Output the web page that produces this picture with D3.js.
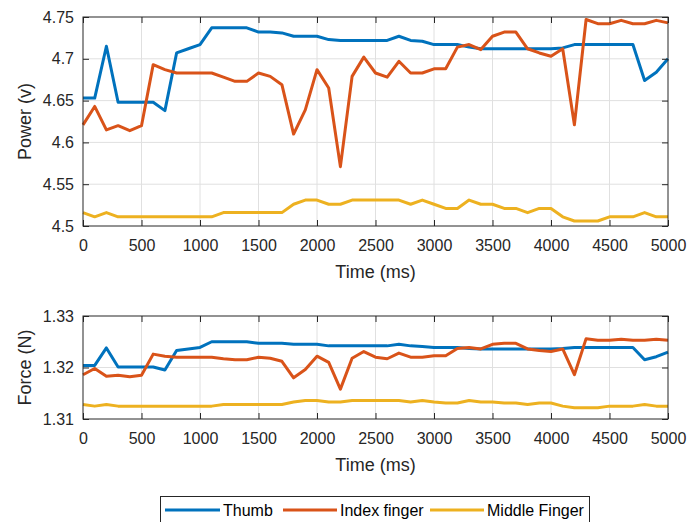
<!DOCTYPE html>
<html>
  <head>
    <meta charset="utf-8">
    <title>Power and force</title>
    <script src="https://d3js.org/d3.v7.min.js"></script>
    <style>
      body { margin: 0; background: #fff; }
      svg { display: block; font-family: "Liberation Sans", Arial, Helvetica, sans-serif; }
      .tick text { fill: #262626; font-size: 16px; }
      .tick line { stroke: #262626; }
      .grid line { stroke: #e0e0e0; stroke-width: 1; }
      .box { fill: none; stroke: #262626; stroke-width: 1; }
      .label { fill: #262626; font-size: 18px; text-anchor: middle; }
      .series { fill: none; stroke-width: 3; stroke-linejoin: round; }
      .legendText { fill: #000; font-size: 16px; }
    </style>
  </head>
  <body>
    <svg id="chart" width="689" height="522"></svg>
    <script>
      // data (one point every 100 ms)
      var time = [0, 100, 200, 300, 400, 500, 600, 700, 800, 900,
        1000, 1100, 1200, 1300, 1400, 1500, 1600, 1700, 1800, 1900,
        2000, 2100, 2200, 2300, 2400, 2500, 2600, 2700, 2800, 2900,
        3000, 3100, 3200, 3300, 3400, 3500, 3600, 3700, 3800, 3900,
        4000, 4100, 4200, 4300, 4400, 4500, 4600, 4700, 4800, 4900, 5000];
      var seriesNames = ["Thumb", "Index finger", "Middle Finger"];
      var seriesColours = ["#0072BD", "#D95319", "#EDB120"];

      var thumbPower = [4.653, 4.653, 4.715, 4.648, 4.648, 4.648, 4.648, 4.638, 4.707, 4.712,
        4.717, 4.737, 4.737, 4.737, 4.737, 4.732, 4.732, 4.731, 4.727, 4.727,
        4.727, 4.723, 4.722, 4.722, 4.722, 4.722, 4.722, 4.727, 4.722, 4.721,
        4.717, 4.717, 4.717, 4.714, 4.712, 4.712, 4.712, 4.712, 4.712, 4.712,
        4.712, 4.713, 4.717, 4.717, 4.717, 4.717, 4.717, 4.717, 4.674, 4.684, 4.700];
      var indexPower = [4.621, 4.643, 4.615, 4.620, 4.614, 4.620, 4.693, 4.687, 4.683, 4.683,
        4.683, 4.683, 4.678, 4.673, 4.673, 4.683, 4.679, 4.669, 4.610, 4.639,
        4.687, 4.665, 4.571, 4.679, 4.702, 4.683, 4.678, 4.697, 4.683, 4.683,
        4.688, 4.688, 4.714, 4.717, 4.711, 4.727, 4.732, 4.732, 4.712, 4.707,
        4.703, 4.712, 4.621, 4.747, 4.742, 4.742, 4.746, 4.742, 4.742, 4.746, 4.743];
      var middlePower = [4.516, 4.511, 4.516, 4.511, 4.511, 4.511, 4.511, 4.511, 4.511, 4.511,
        4.511, 4.511, 4.516, 4.516, 4.516, 4.516, 4.516, 4.516, 4.526, 4.531,
        4.531, 4.526, 4.526, 4.531, 4.531, 4.531, 4.531, 4.531, 4.526, 4.531,
        4.526, 4.521, 4.521, 4.531, 4.526, 4.526, 4.521, 4.521, 4.516, 4.521,
        4.521, 4.511, 4.506, 4.506, 4.506, 4.511, 4.511, 4.511, 4.516, 4.511, 4.511];

      var thumbForce = [1.3204, 1.3204, 1.3238, 1.3201, 1.3201, 1.3201, 1.3201, 1.3195, 1.3233, 1.3236,
        1.3239, 1.3250, 1.3250, 1.3250, 1.3250, 1.3247, 1.3247, 1.3247, 1.3245, 1.3245,
        1.3245, 1.3242, 1.3242, 1.3242, 1.3242, 1.3242, 1.3242, 1.3245, 1.3242, 1.3241,
        1.3239, 1.3239, 1.3239, 1.3237, 1.3236, 1.3236, 1.3236, 1.3236, 1.3236, 1.3236,
        1.3236, 1.3237, 1.3239, 1.3239, 1.3239, 1.3239, 1.3239, 1.3239, 1.3215, 1.3221, 1.3230];
      var indexForce = [1.3186, 1.3198, 1.3183, 1.3185, 1.3182, 1.3185, 1.3226, 1.3222, 1.3220, 1.3220,
        1.3220, 1.3220, 1.3217, 1.3215, 1.3215, 1.3220, 1.3218, 1.3212, 1.3180, 1.3196,
        1.3222, 1.3210, 1.3158, 1.3218, 1.3231, 1.3220, 1.3217, 1.3228, 1.3220, 1.3220,
        1.3223, 1.3223, 1.3237, 1.3239, 1.3236, 1.3245, 1.3247, 1.3247, 1.3236, 1.3233,
        1.3231, 1.3236, 1.3186, 1.3256, 1.3253, 1.3253, 1.3255, 1.3253, 1.3253, 1.3255, 1.3253];
      var middleForce = [1.3128, 1.3125, 1.3128, 1.3125, 1.3125, 1.3125, 1.3125, 1.3125, 1.3125, 1.3125,
        1.3125, 1.3125, 1.3128, 1.3128, 1.3128, 1.3128, 1.3128, 1.3128, 1.3133, 1.3136,
        1.3136, 1.3133, 1.3133, 1.3136, 1.3136, 1.3136, 1.3136, 1.3136, 1.3133, 1.3136,
        1.3133, 1.3131, 1.3131, 1.3136, 1.3133, 1.3133, 1.3131, 1.3131, 1.3128, 1.3131,
        1.3131, 1.3125, 1.3122, 1.3122, 1.3122, 1.3125, 1.3125, 1.3125, 1.3128, 1.3125, 1.3125];

      var timeTicks = [0, 500, 1000, 1500, 2000, 2500, 3000, 3500, 4000, 4500, 5000];
      var powerTicks = [4.5, 4.55, 4.6, 4.65, 4.7, 4.75];
      var forceTicks = [1.31, 1.32, 1.33];

      var svg = d3.select("#chart");
      var left = 83, right = 668;

      function drawPanel(top, bottom, yDomain, yTicks, yLabel, values) {
        var x = d3.scaleLinear().domain([0, 5000]).range([left, right]);
        var y = d3.scaleLinear().domain(yDomain).range([bottom, top]);
        var g = svg.append("g");
        // grid
        var grid = g.append("g").classed("grid", true);
        grid.selectAll(".gx")
            .data(timeTicks.slice(1, -1))
          .enter().append("line")
            .attr("x1", function(d) { return x(d); })
            .attr("x2", function(d) { return x(d); })
            .attr("y1", top)
            .attr("y2", bottom);
        grid.selectAll(".gy")
            .data(yTicks.slice(1, -1))
          .enter().append("line")
            .attr("y1", function(d) { return y(d); })
            .attr("y2", function(d) { return y(d); })
            .attr("x1", left)
            .attr("x2", right);
        // lines
        var line = d3.line()
          .x(function(d, i) { return x(time[i]); })
          .y(function(d) { return y(d); });
        g.selectAll(".series")
            .data(values)
          .enter().append("path")
            .classed("series", true)
            .attr("stroke", function(d, i) { return seriesColours[i]; })
            .attr("d", line);
        // axes, ticks pointing inwards
        g.append("g")
          .attr("transform", "translate(0," + bottom + ")")
          .call(d3.axisBottom(x).tickValues(timeTicks).tickSizeInner(-6).tickSizeOuter(0).tickPadding(14).tickFormat(d3.format("d")));
        g.append("g")
          .attr("transform", "translate(0," + top + ")")
          .call(d3.axisTop(x).tickValues(timeTicks).tickSizeInner(-6).tickSizeOuter(0).tickFormat(""));
        g.append("g")
          .attr("transform", "translate(" + left + ",0)")
          .call(d3.axisLeft(y).tickValues(yTicks).tickSizeInner(-6).tickSizeOuter(0).tickPadding(9).tickFormat(d3.format("")));
        g.append("g")
          .attr("transform", "translate(" + right + ",0)")
          .call(d3.axisRight(y).tickValues(yTicks).tickSizeInner(-6).tickSizeOuter(0).tickFormat(""));
        g.selectAll(".domain").remove();
        g.selectAll(".tick text").attr("font-family", null).attr("font-size", null);
        g.append("rect")
          .classed("box", true)
          .attr("x", left)
          .attr("y", top)
          .attr("width", right - left)
          .attr("height", bottom - top);
        // labels
        g.append("text")
          .classed("label", true)
          .attr("x", (left + right) / 2)
          .attr("y", bottom + 52)
          .text("Time (ms)");
        g.append("text")
          .classed("label", true)
          .attr("transform", "translate(31," + (top + bottom) / 2 + ") rotate(-90)")
          .text(yLabel);
      }

      drawPanel(17, 226, [4.5, 4.75], powerTicks, "Power (v)", [thumbPower, indexPower, middlePower]);
      drawPanel(316, 419, [1.31, 1.33], forceTicks, "Force (N)", [thumbForce, indexForce, middleForce]);

      // legend
      var legend = svg.append("g");
      legend.append("rect")
        .attr("x", 160.5)
        .attr("y", 496.5)
        .attr("width", 429)
        .attr("height", 40)
        .attr("fill", "#fff")
        .attr("stroke", "#262626");
      var items = [
        { x1: 165, x2: 220, tx: 223 },
        { x1: 283, x2: 337, tx: 340 },
        { x1: 430, x2: 484, tx: 487 }
      ];
      items.forEach(function(d, i) {
        legend.append("line")
          .attr("x1", d.x1)
          .attr("x2", d.x2)
          .attr("y1", 510)
          .attr("y2", 510)
          .attr("stroke", seriesColours[i])
          .attr("stroke-width", 3);
        legend.append("text")
          .classed("legendText", true)
          .attr("x", d.tx)
          .attr("y", 516)
          .text(seriesNames[i]);
      });
    </script>
  </body>
</html>
